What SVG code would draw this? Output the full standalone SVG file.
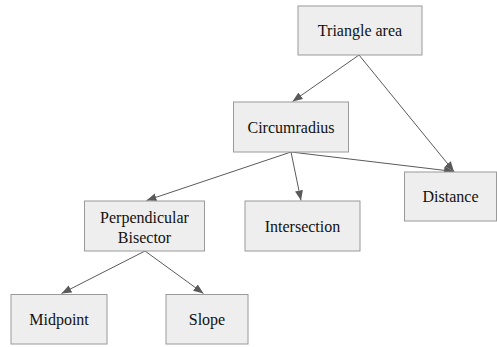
<svg xmlns="http://www.w3.org/2000/svg" width="497" height="347" viewBox="0 0 497 347">
<style>
.box{fill:#eeeeee;stroke:#9a9a9a;stroke-width:1}
.lbl{font-size:16px;fill:#111;text-anchor:middle}
.edge{stroke:#5a5a5a;stroke-width:1;fill:none;marker-end:url(#arr)}
</style>
<defs>
<marker id="arr" viewBox="0 0 10 10" refX="10" refY="5" markerWidth="10" markerHeight="10" markerUnits="userSpaceOnUse" orient="auto">
<path d="M0,1 L10,5 L0,9 Z" fill="#5a5a5a"/>
</marker>
</defs>
<rect width="497" height="347" fill="#ffffff"/>
<g id="connectors">
<line class="edge" x1="359" y1="55" x2="292.5" y2="101.5"/>
<line class="edge" x1="359" y1="55" x2="454" y2="171.5"/>
<line class="edge" x1="291" y1="152" x2="146.5" y2="200.5"/>
<line class="edge" x1="291" y1="152" x2="301" y2="200.5"/>
<line class="edge" x1="291" y1="152" x2="454" y2="171.5"/>
<line class="edge" x1="145" y1="251" x2="61.5" y2="293.5"/>
<line class="edge" x1="145" y1="251" x2="203.5" y2="293.5"/>
</g>
<g font-family="'Liberation Serif', 'Times New Roman', 'DejaVu Serif', serif">
<g id="triangle-area"><rect class="box" x="298" y="6" width="124" height="49"/><text class="lbl" x="360" y="36">Triangle area</text></g>
<g id="circumradius"><rect class="box" x="233.5" y="102" width="115" height="50"/><text class="lbl" x="291" y="132.5">Circumradius</text></g>
<g id="distance"><rect class="box" x="404.5" y="172" width="92" height="49"/><text class="lbl" x="450.5" y="202">Distance</text></g>
<g id="perpendicular-bisector"><rect class="box" x="84.5" y="201" width="120" height="50"/><text class="lbl" x="144.5" y="223">Perpendicular</text><text class="lbl" x="144.5" y="243">Bisector</text></g>
<g id="intersection"><rect class="box" x="245" y="201" width="115" height="50"/><text class="lbl" x="302.5" y="231.5">Intersection</text></g>
<g id="midpoint"><rect class="box" x="11" y="294.5" width="96" height="49.5"/><text class="lbl" x="59" y="324.5">Midpoint</text></g>
<g id="slope"><rect class="box" x="166" y="294.5" width="82" height="49.5"/><text class="lbl" x="207" y="324.5">Slope</text></g>
</g>
</svg>
